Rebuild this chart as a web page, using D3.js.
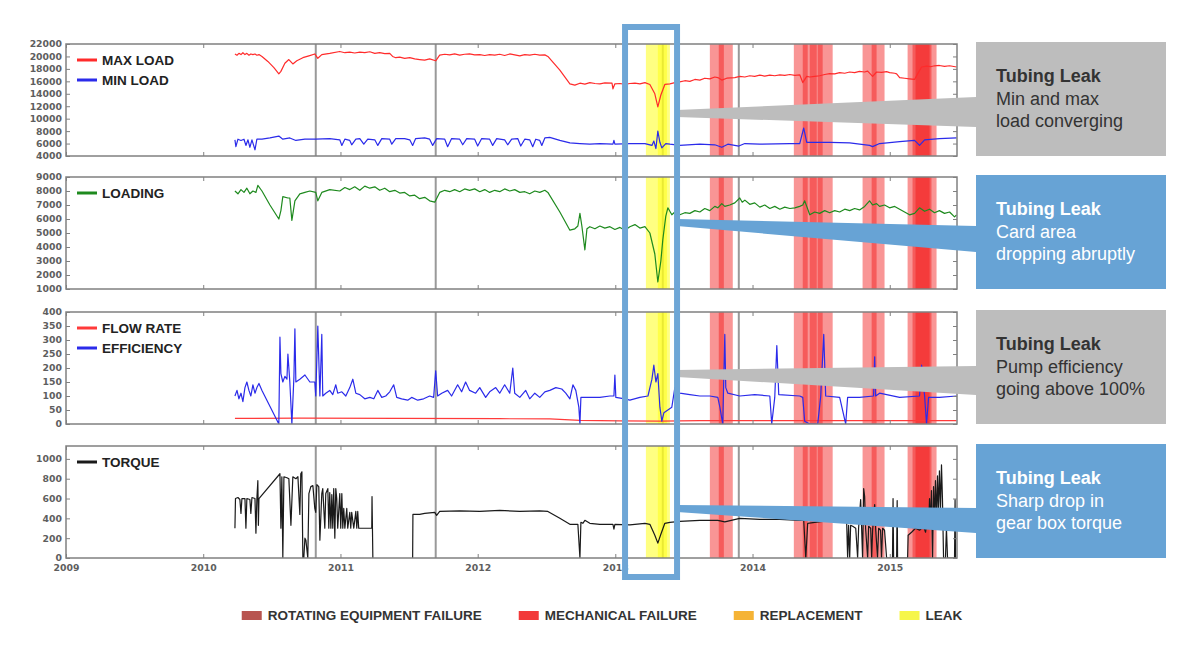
<!DOCTYPE html>
<html>
<head>
<meta charset="utf-8">
<script src="https://cdn.jsdelivr.net/npm/d3@7"></script>
<style>
  body { margin: 0; background: #fff; }
  svg { display: block; }
  text { font-family: "Liberation Sans", Arial, Helvetica, sans-serif; }
  .tick text { font-family: "DejaVu Sans", Verdana, sans-serif; }
</style>
</head>
<body>
<svg id="chart" width="1200" height="655"></svg>
<script>
// ---- data (time as decimal year, value) ----
const maxLoad = [[2010.231,20400],[2010.246,20200],[2010.260,20500],[2010.275,20300],[2010.289,20600],[2010.304,20300],[2010.318,20500],[2010.333,20200],[2010.347,20400],[2010.362,20300],[2010.377,20400],[2010.391,20200],[2010.406,20300],[2010.428,20000],[2010.471,19200],[2010.515,18200],[2010.551,17200],[2010.566,17600],[2010.595,18900],[2010.624,19500],[2010.653,18800],[2010.682,19300],[2010.726,19800],[2010.770,20100],[2010.813,20400],[2010.835,19700],[2010.864,20300],[2010.922,20500],[2010.995,20800],[2011.032,20600],[2011.068,20700],[2011.104,20550],[2011.141,20700],[2011.177,20600],[2011.214,20750],[2011.250,20500],[2011.286,20600],[2011.323,20450],[2011.359,20500],[2011.380,20000],[2011.403,19800],[2011.432,19900],[2011.468,19700],[2011.505,19800],[2011.541,19600],[2011.577,19500],[2011.614,19400],[2011.650,19600],[2011.694,19300],[2011.723,20200],[2011.760,20350],[2011.796,20250],[2011.832,20400],[2011.869,20200],[2011.905,20350],[2011.941,20400],[2011.978,20250],[2012.015,20300],[2012.051,20150],[2012.087,20300],[2012.124,20200],[2012.160,20350],[2012.196,20150],[2012.233,20400],[2012.269,20250],[2012.306,20100],[2012.342,20300],[2012.378,20200],[2012.415,20350],[2012.451,20200],[2012.488,20250],[2012.510,20000],[2012.597,17800],[2012.670,15600],[2012.706,15400],[2012.743,15700],[2012.779,15550],[2012.815,15800],[2012.852,15650],[2012.888,15600],[2012.924,15750],[2012.976,15700],[2012.983,14800],[2012.997,15600],[2013.034,15650],[2013.070,15500],[2013.106,15650],[2013.143,15700],[2013.179,15600],[2013.216,15800],[2013.252,15500],[2013.288,14000],[2013.310,11900],[2013.332,13800],[2013.361,15500],[2013.398,15600],[2013.434,15800],[2013.470,15900],[2013.507,16100],[2013.543,16000],[2013.580,16300],[2013.616,16200],[2013.652,16500],[2013.689,16400],[2013.725,16700],[2013.747,16600],[2013.776,16200],[2013.812,16500],[2013.871,16600],[2013.907,16800],[2013.944,16700],[2013.980,16900],[2014.016,16800],[2014.053,17000],[2014.089,16850],[2014.126,17000],[2014.162,16900],[2014.199,17050],[2014.235,16950],[2014.272,17100],[2014.308,16950],[2014.344,17050],[2014.366,15800],[2014.395,16800],[2014.417,16700],[2014.453,16800],[2014.489,16900],[2014.526,17100],[2014.562,17250],[2014.599,17200],[2014.635,17400],[2014.672,17300],[2014.708,17500],[2014.744,17400],[2014.780,17600],[2014.817,17500],[2014.839,17650],[2014.875,16800],[2014.904,17500],[2014.940,17450],[2014.977,17550],[2014.999,17400],[2015.036,17300],[2015.050,17200],[2015.072,16600],[2015.108,16500],[2015.144,16400],[2015.181,16300],[2015.203,17200],[2015.232,18300],[2015.268,18450],[2015.297,18350],[2015.326,18500],[2015.362,18550],[2015.399,18400],[2015.436,18500],[2015.487,18300]];

const minLoad = [[2010.231,6600],[2010.238,5500],[2010.253,6700],[2010.275,6500],[2010.297,6700],[2010.311,5700],[2010.326,6600],[2010.340,5400],[2010.355,6600],[2010.377,5000],[2010.391,6700],[2010.428,6700],[2010.486,6900],[2010.551,7200],[2010.580,6700],[2010.631,6900],[2010.675,6500],[2010.741,6700],[2010.820,6700],[2010.922,6800],[2010.995,6600],[2011.010,5700],[2011.032,6700],[2011.068,6500],[2011.082,5800],[2011.112,6700],[2011.141,6800],[2011.170,5900],[2011.199,6700],[2011.250,6600],[2011.272,5700],[2011.301,6800],[2011.359,6700],[2011.374,5900],[2011.403,6800],[2011.468,6800],[2011.505,6600],[2011.526,5700],[2011.548,6800],[2011.614,6900],[2011.650,6700],[2011.672,5700],[2011.701,6800],[2011.760,6700],[2011.781,5500],[2011.810,6800],[2011.869,6700],[2011.891,5800],[2011.920,6800],[2011.978,6700],[2012.000,5600],[2012.029,6800],[2012.087,6700],[2012.109,5700],[2012.138,6800],[2012.196,6600],[2012.218,5800],[2012.247,6700],[2012.291,6800],[2012.313,5600],[2012.342,6700],[2012.378,6600],[2012.400,5500],[2012.422,6700],[2012.451,6500],[2012.466,5700],[2012.488,6900],[2012.524,7000],[2012.597,6500],[2012.670,6100],[2012.743,6000],[2012.815,5900],[2012.888,6000],[2012.983,5900],[2012.990,6500],[2012.997,5900],[2013.106,6000],[2013.216,6000],[2013.267,5700],[2013.281,6400],[2013.296,5200],[2013.310,8000],[2013.325,6200],[2013.339,5300],[2013.368,6000],[2013.398,5900],[2013.470,5700],[2013.616,5900],[2013.725,5800],[2013.776,5400],[2013.820,5900],[2013.900,5600],[2013.944,6000],[2014.053,5900],[2014.272,6000],[2014.344,6000],[2014.373,8500],[2014.395,6200],[2014.562,6200],[2014.708,6100],[2014.853,5700],[2014.875,5500],[2014.926,6000],[2015.072,6300],[2015.181,6500],[2015.217,5700],[2015.254,6600],[2015.362,6800],[2015.487,6900]];

const loading = [[2010.231,8000],[2010.253,7800],[2010.275,8100],[2010.297,7900],[2010.318,8200],[2010.340,7800],[2010.362,8000],[2010.384,7900],[2010.398,8400],[2010.428,8000],[2010.486,7000],[2010.551,6000],[2010.566,6600],[2010.580,7600],[2010.617,7500],[2010.631,7500],[2010.646,5900],[2010.668,7300],[2010.704,7800],[2010.741,7900],[2010.777,8000],[2010.820,7900],[2010.835,7300],[2010.864,7900],[2010.922,8100],[2010.995,8000],[2011.032,8250],[2011.068,8100],[2011.104,8300],[2011.141,8050],[2011.177,8350],[2011.214,8200],[2011.250,8300],[2011.286,8050],[2011.323,8200],[2011.359,7950],[2011.396,8050],[2011.432,7850],[2011.468,7900],[2011.505,7650],[2011.541,7700],[2011.577,7450],[2011.614,7550],[2011.650,7300],[2011.687,7200],[2011.723,7900],[2011.760,8050],[2011.796,7950],[2011.832,8100],[2011.869,7950],[2011.905,8150],[2011.941,8050],[2011.978,8150],[2012.015,7950],[2012.051,8100],[2012.087,7900],[2012.124,8050],[2012.160,7950],[2012.196,8150],[2012.233,8000],[2012.269,8100],[2012.306,7900],[2012.342,7950],[2012.378,7800],[2012.415,8000],[2012.451,7900],[2012.488,8050],[2012.510,7900],[2012.597,6500],[2012.670,5200],[2012.706,5300],[2012.728,5500],[2012.743,6400],[2012.757,5500],[2012.779,3800],[2012.794,5300],[2012.815,5450],[2012.852,5300],[2012.888,5500],[2012.924,5350],[2012.961,5450],[2012.997,5250],[2013.034,5400],[2013.070,5200],[2013.106,5450],[2013.143,5600],[2013.179,5350],[2013.216,5450],[2013.252,5000],[2013.288,3500],[2013.310,1500],[2013.332,3000],[2013.346,4500],[2013.368,6200],[2013.383,6800],[2013.412,6300],[2013.434,6500],[2013.470,6300],[2013.507,6450],[2013.543,6400],[2013.580,6600],[2013.616,6500],[2013.652,6750],[2013.689,6600],[2013.725,6900],[2013.747,6800],[2013.776,7100],[2013.798,6900],[2013.834,7000],[2013.871,7150],[2013.907,7500],[2013.925,7200],[2013.944,7350],[2013.980,7050],[2014.016,7150],[2014.053,6850],[2014.089,7000],[2014.126,6750],[2014.162,6900],[2014.199,6700],[2014.235,6850],[2014.272,6750],[2014.308,6800],[2014.344,6900],[2014.366,7000],[2014.380,7300],[2014.395,6900],[2014.417,6300],[2014.453,6500],[2014.489,6400],[2014.526,6600],[2014.562,6450],[2014.599,6600],[2014.635,6500],[2014.672,6700],[2014.708,6600],[2014.744,6750],[2014.780,6650],[2014.817,6900],[2014.853,7300],[2014.875,7000],[2014.904,7100],[2014.926,6900],[2014.962,7000],[2014.999,6800],[2015.036,6900],[2015.072,6700],[2015.108,6500],[2015.144,6300],[2015.181,6400],[2015.217,6800],[2015.254,6550],[2015.290,6700],[2015.326,6450],[2015.362,6600],[2015.399,6400],[2015.436,6500],[2015.472,6150],[2015.487,6300]];

const flowRate = [[2010.231,20],[2010.704,21],[2011.432,20],[2012.160,19],[2012.524,18],[2012.743,13],[2013.034,11],[2013.325,10],[2013.616,12],[2015.487,12]];

const efficiency = [[2010.231,100],[2010.246,120],[2010.260,90],[2010.275,110],[2010.289,80],[2010.304,130],[2010.318,150],[2010.333,120],[2010.347,100],[2010.362,140],[2010.377,110],[2010.391,130],[2010.406,145],[2010.428,120],[2010.551,0],[2010.559,310],[2010.566,180],[2010.580,150],[2010.595,170],[2010.610,160],[2010.617,250],[2010.631,150],[2010.646,0],[2010.661,170],[2010.668,340],[2010.675,150],[2010.704,160],[2010.741,175],[2010.777,150],[2010.813,150],[2010.820,100],[2010.835,350],[2010.850,100],[2010.864,320],[2010.871,100],[2010.893,110],[2010.922,120],[2010.944,105],[2010.966,140],[2010.980,110],[2011.010,115],[2011.039,100],[2011.068,130],[2011.090,160],[2011.112,110],[2011.141,105],[2011.177,90],[2011.214,95],[2011.243,90],[2011.272,120],[2011.301,95],[2011.330,100],[2011.359,115],[2011.388,140],[2011.410,95],[2011.446,90],[2011.490,85],[2011.519,95],[2011.563,85],[2011.606,90],[2011.650,100],[2011.679,95],[2011.694,190],[2011.708,100],[2011.738,110],[2011.781,120],[2011.810,100],[2011.854,140],[2011.883,115],[2011.912,150],[2011.941,120],[2011.985,110],[2012.015,130],[2012.058,95],[2012.087,115],[2012.131,130],[2012.160,110],[2012.196,140],[2012.233,110],[2012.255,200],[2012.269,110],[2012.306,95],[2012.349,120],[2012.378,90],[2012.415,110],[2012.451,95],[2012.488,115],[2012.524,120],[2012.568,130],[2012.611,125],[2012.640,110],[2012.670,90],[2012.692,140],[2012.713,120],[2012.735,60],[2012.743,0],[2012.750,95],[2012.815,95],[2012.888,95],[2012.961,100],[2012.990,100],[2012.997,175],[2013.004,95],[2013.070,90],[2013.106,85],[2013.179,95],[2013.238,100],[2013.267,160],[2013.281,210],[2013.296,150],[2013.310,180],[2013.325,60],[2013.339,10],[2013.354,40],[2013.383,50],[2013.412,60],[2013.434,130],[2013.470,110],[2013.543,105],[2013.616,100],[2013.689,100],[2013.747,95],[2013.762,60],[2013.783,0],[2013.798,320],[2013.805,130],[2013.820,110],[2013.907,100],[2014.016,105],[2014.126,100],[2014.140,0],[2014.162,95],[2014.177,280],[2014.191,105],[2014.344,100],[2014.366,95],[2014.380,10],[2014.417,0],[2014.475,0],[2014.497,100],[2014.519,320],[2014.533,100],[2014.635,95],[2014.679,0],[2014.693,95],[2014.780,95],[2014.882,100],[2014.890,240],[2014.897,100],[2014.926,110],[2015.072,95],[2015.217,100],[2015.232,210],[2015.254,100],[2015.268,0],[2015.283,95],[2015.362,95],[2015.487,100]];

const torque = [[2010.231,300],[2010.235,600],[2010.253,610],[2010.267,590],[2010.275,450],[2010.282,600],[2010.304,600],[2010.311,300],[2010.318,600],[2010.340,590],[2010.347,450],[2010.355,610],[2010.377,600],[2010.384,250],[2010.391,600],[2010.398,780],[2010.402,330],[2010.406,600],[2010.559,850],[2010.566,300],[2010.573,820],[2010.580,0],[2010.588,820],[2010.610,810],[2010.624,800],[2010.639,330],[2010.653,820],[2010.675,800],[2010.690,820],[2010.704,440],[2010.711,850],[2010.719,870],[2010.726,0],[2010.733,0],[2010.741,200],[2010.748,180],[2010.762,0],[2010.770,650],[2010.784,720],[2010.799,730],[2010.813,500],[2010.820,460],[2010.828,740],[2010.842,720],[2010.850,180],[2010.864,650],[2010.871,700],[2010.886,300],[2010.893,650],[2010.908,700],[2010.915,300],[2010.922,660],[2010.930,300],[2010.937,640],[2010.944,300],[2010.951,700],[2010.959,200],[2010.966,700],[2010.973,600],[2010.980,300],[2010.995,650],[2011.002,300],[2011.010,650],[2011.017,300],[2011.024,500],[2011.032,300],[2011.046,500],[2011.053,300],[2011.068,460],[2011.075,300],[2011.082,460],[2011.097,300],[2011.112,470],[2011.119,300],[2011.126,470],[2011.133,300],[2011.177,300],[2011.228,300],[2011.230,620],[2011.236,0],[2011.300,null],[2011.526,0],[2011.528,440],[2011.577,440],[2011.614,450],[2011.687,460],[2011.701,430],[2011.723,470],[2011.869,475],[2012.015,470],[2012.160,480],[2012.306,470],[2012.451,475],[2012.510,470],[2012.597,400],[2012.670,340],[2012.728,340],[2012.743,0],[2012.750,360],[2012.764,350],[2012.779,380],[2012.815,350],[2012.888,340],[2012.983,340],[2012.990,290],[2012.997,340],[2013.106,335],[2013.216,350],[2013.252,340],[2013.288,230],[2013.310,150],[2013.332,240],[2013.361,350],[2013.398,360],[2013.470,370],[2013.616,380],[2013.747,380],[2013.798,365],[2013.907,400],[2014.053,390],[2014.199,390],[2014.344,380],[2014.373,380],[2014.388,0],[2014.402,350],[2014.453,360],[2014.511,370],[2014.599,370],[2014.686,360],[2014.693,0],[2014.700,330],[2014.708,0],[2014.715,330],[2014.730,320],[2014.752,300],[2014.766,0],[2014.773,300],[2014.788,590],[2014.795,300],[2014.802,0],[2014.810,700],[2014.817,620],[2014.824,300],[2014.839,0],[2014.846,320],[2014.861,300],[2014.868,0],[2014.875,280],[2014.890,540],[2014.897,300],[2014.911,0],[2014.919,300],[2014.933,280],[2014.940,0],[2014.948,300],[2014.962,280],[2014.977,0],[2015.020,0],[2015.024,600],[2015.028,0],[2015.050,0],[2015.054,580],[2015.057,0],[2015.130,0],[2015.134,230],[2015.159,260],[2015.188,300],[2015.217,280],[2015.246,320],[2015.261,260],[2015.268,330],[2015.275,450],[2015.283,300],[2015.290,600],[2015.297,320],[2015.304,680],[2015.312,0],[2015.319,720],[2015.326,350],[2015.333,780],[2015.341,400],[2015.348,830],[2015.355,450],[2015.362,880],[2015.370,500],[2015.377,940],[2015.384,600],[2015.392,0],[2015.406,0],[2015.413,300],[2015.421,0],[2015.472,0],[2015.476,590],[2015.479,0],[2015.487,0]];

// event windows (decimal years)
const mechanicalFailures = [[2013.689,2013.791],[2013.754,2013.856],[2014.301,2014.402],[2014.366,2014.468],[2014.417,2014.511],[2014.475,2014.584],[2014.802,2014.904],[2014.868,2014.962],[2015.130,2015.304],[2015.166,2015.341],[2015.188,2015.290]];
const leaks = [[2013.223,2013.398],[2013.310,2013.376]];
const serviceDates = [2010.820, 2011.694, 2013.346, 2013.900];
const highlightWindow = [2013.071, 2013.450];

const calloutTitle = "Tubing Leak";
const calloutText = [
  ["Min and max", "load converging"],
  ["Card area", "dropping abruptly"],
  ["Pump efficiency", "going above 100%"],
  ["Sharp drop in", "gear box torque"]
];
const calloutFill = ["#bdbdbd", "#67a3d5", "#bdbdbd", "#67a3d5"];
const calloutInk = ["#333", "#fff", "#333", "#fff"];

const legendNames = ["ROTATING EQUIPMENT FAILURE", "MECHANICAL FAILURE", "REPLACEMENT", "LEAK"];
const legendColors = ["#b85450", "#f23a3a", "#f5b335", "#f6f64a"];

// ---- helpers ----
const yr = t => {
  const y = Math.floor(t)
  const a = Date.UTC(y, 0, 1), b = Date.UTC(y + 1, 0, 1)
  return new Date(a + (t - y) * (b - a))
}

const svg = d3.select("#chart")
const left = 66, right = 957
const panelTops = [44, 177, 312, 446]
const panelH = 112

const x = d3.scaleUtc()
  .domain([yr(2009), yr(2015.49)])
  .range([left, right])

const panels = [
  { domain: [4000, 22000], ticks: d3.range(4000, 22001, 2000), series: [
    { data: maxLoad, color: "#ff2b2b", label: "MAX LOAD" },
    { data: minLoad, color: "#2b2bea", label: "MIN LOAD" }] },
  { domain: [1000, 9000], ticks: d3.range(1000, 9001, 1000), series: [
    { data: loading, color: "#1e8a1e", label: "LOADING" }] },
  { domain: [0, 400], ticks: d3.range(0, 401, 50), series: [
    { data: flowRate, color: "#ff3a3a", label: "FLOW RATE" },
    { data: efficiency, color: "#2b2bea", label: "EFFICIENCY" }] },
  { domain: [0, 1130], ticks: d3.range(0, 1001, 200), series: [
    { data: torque, color: "#1a1a1a", label: "TORQUE" }] }
]

panels.forEach((p, i) => {
  const top = panelTops[i], bottom = top + panelH
  const y = d3.scaleLinear().domain(p.domain).range([bottom, top])
  const g = svg.append("g")

  g.append("clipPath").attr("id", "clip" + i)
    .append("rect").attr("x", left).attr("y", top).attr("width", right - left).attr("height", panelH)

  // service lines sit under the event bands
  g.append("g").selectAll("line")
    .data(serviceDates)
    .join("line")
    .attr("x1", d => x(yr(d))).attr("x2", d => x(yr(d)))
    .attr("y1", top).attr("y2", bottom)
    .attr("stroke", "#999").attr("stroke-width", 2)

  g.append("g").selectAll("rect")
    .data(mechanicalFailures)
    .join("rect")
    .attr("x", d => x(yr(d[0])))
    .attr("width", d => x(yr(d[1])) - x(yr(d[0])))
    .attr("y", top).attr("height", panelH)
    .attr("fill", "#f21414").attr("fill-opacity", 0.45)

  g.append("g").selectAll("rect")
    .data(leaks)
    .join("rect")
    .attr("x", d => x(yr(d[0])))
    .attr("width", d => x(yr(d[1])) - x(yr(d[0])))
    .attr("y", top).attr("height", panelH)
    .attr("fill", "#ffff1a").attr("fill-opacity", 0.55)

  // series
  const line = d3.line()
    .defined(d => d[1] != null)
    .x(d => x(yr(d[0])))
    .y(d => y(d[1]))

  g.append("g").attr("clip-path", `url(#clip${i})`)
    .selectAll("path")
    .data(p.series)
    .join("path")
    .attr("fill", "none")
    .attr("stroke", d => d.color)
    .attr("stroke-width", 1.2)
    .attr("stroke-linejoin", "round")
    .attr("d", d => line(d.data))

  // frame
  g.append("rect")
    .attr("x", left).attr("y", top)
    .attr("width", right - left).attr("height", panelH)
    .attr("fill", "none").attr("stroke", "#808080").attr("stroke-width", 1.5)

  // axes, ticks pointing inward
  const yl = g.append("g")
    .attr("transform", `translate(${left},0)`)
    .call(d3.axisLeft(y).tickValues(p.ticks).tickFormat(d3.format("d")).tickSizeInner(-4).tickSizeOuter(0).tickPadding(4))
  const yr2 = g.append("g")
    .attr("transform", `translate(${right},0)`)
    .call(d3.axisRight(y).tickValues(p.ticks).tickFormat("").tickSizeInner(-4).tickSizeOuter(0))
  const xt = g.append("g")
    .attr("transform", `translate(0,${top})`)
    .call(d3.axisTop(x).ticks(d3.utcYear.every(1)).tickFormat("").tickSizeInner(-4).tickSizeOuter(0))
  const xb = g.append("g")
    .attr("transform", `translate(0,${bottom})`)
    .call(d3.axisBottom(x).ticks(d3.utcYear.every(1)).tickFormat(i === 3 ? d3.utcFormat("%Y") : "").tickSizeInner(-4).tickSizeOuter(0).tickPadding(6))

  ;[yl, yr2, xt, xb].forEach(a => {
    a.select(".domain").remove()
    a.selectAll(".tick line").attr("stroke", "#808080")
    a.selectAll("text")
      .attr("fill", "#5e5e5e")
      .attr("font-size", 9.3)
      .attr("font-weight", "bold")
  })

  // legend
  const lg = g.append("g")
    .selectAll("g")
    .data(p.series)
    .join("g")
    .attr("transform", (d, k) => `translate(77,${top + 16 + k * 20})`)
  lg.append("line")
    .attr("x1", 0).attr("x2", 20)
    .attr("stroke", d => d.color).attr("stroke-width", 3)
  lg.append("text")
    .attr("x", 25).attr("dy", "0.35em")
    .attr("font-size", 13.5).attr("font-weight", "bold").attr("fill", "#222")
    .text(d => d.label)
})

// callout wedges pointing from the leak window to the boxes
const hx0 = x(yr(highlightWindow[0])), hx1 = x(yr(highlightWindow[1]))
const boxX = 976, boxW = 190
const wedges = [
  [[hx1, 110], [boxX, 97], [boxX, 127], [hx1, 117]],
  [[hx1, 219], [boxX, 226], [boxX, 252], [hx1, 226]],
  [[hx1, 370], [boxX, 366], [boxX, 395], [hx1, 377]],
  [[hx1, 505], [boxX, 508], [boxX, 533], [hx1, 512]]
]
svg.append("g").selectAll("polygon")
  .data(wedges)
  .join("polygon")
  .attr("points", d => d.map(q => q.join(",")).join(" "))
  .attr("fill", (d, i) => calloutFill[i])

svg.append("rect")
  .attr("x", hx0).attr("y", 27)
  .attr("width", hx1 - hx0).attr("height", 550)
  .attr("fill", "none").attr("stroke", "#6ea6d6").attr("stroke-width", 6)

const boxes = svg.append("g").selectAll("g")
  .data(calloutText)
  .join("g")
  .attr("transform", (d, i) => `translate(${boxX},${panelTops[i] - 2})`)
boxes.append("rect")
  .attr("width", boxW).attr("height", panelH + 2)
  .attr("fill", (d, i) => calloutFill[i])
const bt = boxes.append("text")
  .attr("x", 20).attr("y", 40)
  .attr("font-size", 18)
  .attr("fill", (d, i) => calloutInk[i])
bt.append("tspan").attr("font-weight", "bold").text(calloutTitle)
bt.append("tspan").attr("x", 20).attr("dy", 22.5).text(d => d[0])
bt.append("tspan").attr("x", 20).attr("dy", 22.5).text(d => d[1])

// bottom legend
const leg = svg.append("g")
const items = leg.selectAll("g")
  .data(legendNames)
  .join("g")
items.append("rect")
  .attr("width", 20).attr("height", 9).attr("y", -9)
  .attr("fill", (d, i) => legendColors[i])
items.append("text")
  .attr("x", 26).attr("y", 0)
  .attr("font-size", 13.5).attr("font-weight", "bold").attr("fill", "#333")
  .text(d => d)
let cx = 0
const offsets = []
items.each(function () {
  offsets.push(cx)
  cx += 26 + d3.select(this).select("text").node().getComputedTextLength() + 37
})
const total = cx - 37
items.attr("transform", (d, i) => `translate(${offsets[i]},0)`)
leg.attr("transform", `translate(${602 - total / 2},620)`)
</script>
</body>
</html>
